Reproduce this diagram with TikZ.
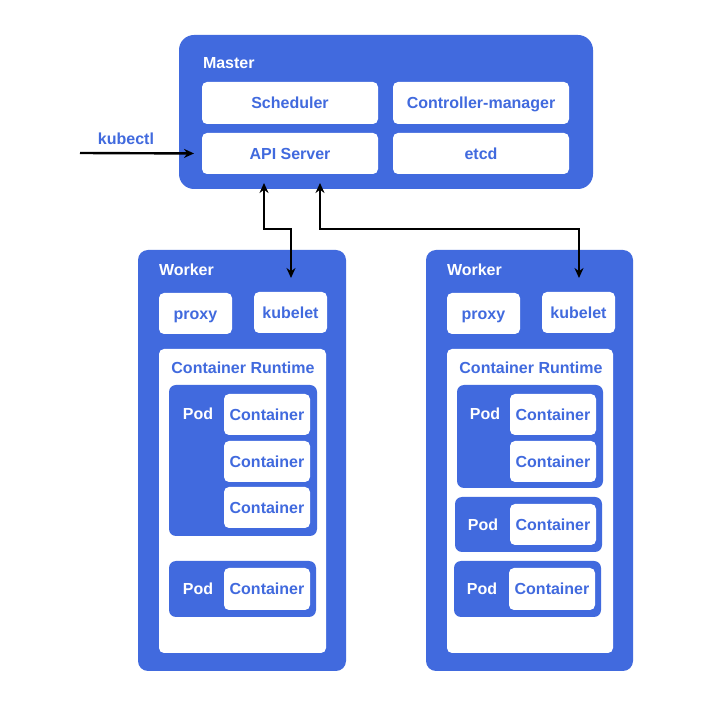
\documentclass[tikz,border=0pt]{standalone}
\usepackage{fontspec}
\setmainfont{Liberation Sans}
\usetikzlibrary{arrows.meta}
\definecolor{kblue}{RGB}{65,106,222}
\tikzset{
  base/.style={inner sep=0pt, outer sep=0pt, text height=11.5pt, text depth=0pt, font=\fontsize{16}{19}\selectfont\bfseries},
  bluebox/.style={base, fill=kblue, draw=none},
  whitebox/.style={base, fill=white, draw=none, text=kblue, rounded corners=5pt},
  podbox/.style={bluebox, rounded corners=7pt},
  lbl/.style={base, text=white, anchor=west},
  bluelbl/.style={base, text=kblue},
  conn/.style={line width=2.4pt, draw=black, -{Stealth[length=10pt,width=9pt]}},
  conn2/.style={line width=2.4pt, draw=black, {Stealth[length=10pt,width=9pt]}-{Stealth[length=10pt,width=9pt]}},
}
\begin{document}
\begin{tikzpicture}[x=1pt,y=-1pt]
\useasboundingbox[fill=white] (0,0) rectangle (716,708);

% Master
\node[bluebox, rounded corners=15pt, minimum width=414pt, minimum height=154pt] (master) at (386,112) {};
\node[lbl] (masterlbl) at (203,63) {Master};
\node[whitebox, minimum width=176pt, minimum height=42pt] (sched) at (290,103) {Scheduler};
\node[whitebox, minimum width=176pt, minimum height=42pt] (cm) at (481,103) {Controller-manager};
\node[whitebox, minimum width=176pt, minimum height=41pt] (api) at (290,153.5) {API Server};
\node[whitebox, minimum width=176pt, minimum height=41pt] (etcd) at (481,153.5) {etcd};

% kubectl
\coordinate (kin) at (80,153);
\node[bluelbl] (kubectl) at (126,139) {kubectl};

% Worker 1
\node[bluebox, rounded corners=10pt, minimum width=208pt, minimum height=421pt] (w1) at (242,460.5) {};
\node[lbl] (w1lbl) at (159,270) {Worker};
\node[whitebox, minimum width=73pt, minimum height=41pt] (proxy1) at (195.5,313.5) {proxy};
\node[whitebox, minimum width=73pt, minimum height=41pt] (kubelet1) at (290.5,312.5) {kubelet};
\node[whitebox, minimum width=167pt, minimum height=304pt] (rt1) at (242.5,501) {};
\node[bluelbl] (rt1lbl) at (243,368) {Container Runtime};
\node[podbox, minimum width=148pt, minimum height=151pt] (p1a) at (243,460.5) {};
\node[lbl, anchor=center] (p1alb) at (198,414) {Pod};
\node[whitebox, minimum width=86pt, minimum height=41pt] (c1a1) at (267,414.5) {Container};
\node[whitebox, minimum width=86pt, minimum height=41pt] (c1a2) at (267,461.5) {Container};
\node[whitebox, minimum width=86pt, minimum height=41pt] (c1a3) at (267,507.5) {Container};
\node[podbox, minimum width=147pt, minimum height=56pt] (p1b) at (242.5,589) {};
\node[lbl, anchor=center] (p1blb) at (198,589) {Pod};
\node[whitebox, minimum width=86pt, minimum height=42pt] (c1b1) at (267,589) {Container};

% Worker 2
\node[bluebox, rounded corners=10pt, minimum width=207pt, minimum height=421pt] (w2) at (529.5,460.5) {};
\node[lbl] (w2lbl) at (447,270) {Worker};
\node[whitebox, minimum width=73pt, minimum height=41pt] (proxy2) at (483.5,313.5) {proxy};
\node[whitebox, minimum width=73pt, minimum height=41pt] (kubelet2) at (578.5,312.5) {kubelet};
\node[whitebox, minimum width=166pt, minimum height=304pt] (rt2) at (530,501) {};
\node[bluelbl] (rt2lbl) at (531,368) {Container Runtime};
\node[podbox, minimum width=146pt, minimum height=103pt] (p2a) at (530,436.5) {};
\node[lbl, anchor=center] (p2alb) at (485,414) {Pod};
\node[whitebox, minimum width=86pt, minimum height=41pt] (c2a1) at (553,414.5) {Container};
\node[whitebox, minimum width=86pt, minimum height=41pt] (c2a2) at (553,461.5) {Container};
\node[podbox, minimum width=147pt, minimum height=55pt] (p2b) at (528.5,524.5) {};
\node[lbl, anchor=center] (p2blb) at (483,524.5) {Pod};
\node[whitebox, minimum width=86pt, minimum height=41pt] (c2b1) at (553,524.5) {Container};
\node[podbox, minimum width=147pt, minimum height=56pt] (p2c) at (527.5,589) {};
\node[lbl, anchor=center] (p2clb) at (482,589) {Pod};
\node[whitebox, minimum width=86pt, minimum height=42pt] (c2c1) at (552,589) {Container};

% connectors
\draw[conn, shorten >=8pt] (kin) -- (api.west);
\coordinate (a1top) at (264,183);
\coordinate (a1bot) at (291,278);
\coordinate (a2top) at (320,183);
\coordinate (a2bot) at (579,278);
\draw[conn2] (a1top) -- (264,229) -| (a1bot);
\draw[conn2] (a2top) -- (320,229) -| (a2bot);
\end{tikzpicture}
\end{document}
